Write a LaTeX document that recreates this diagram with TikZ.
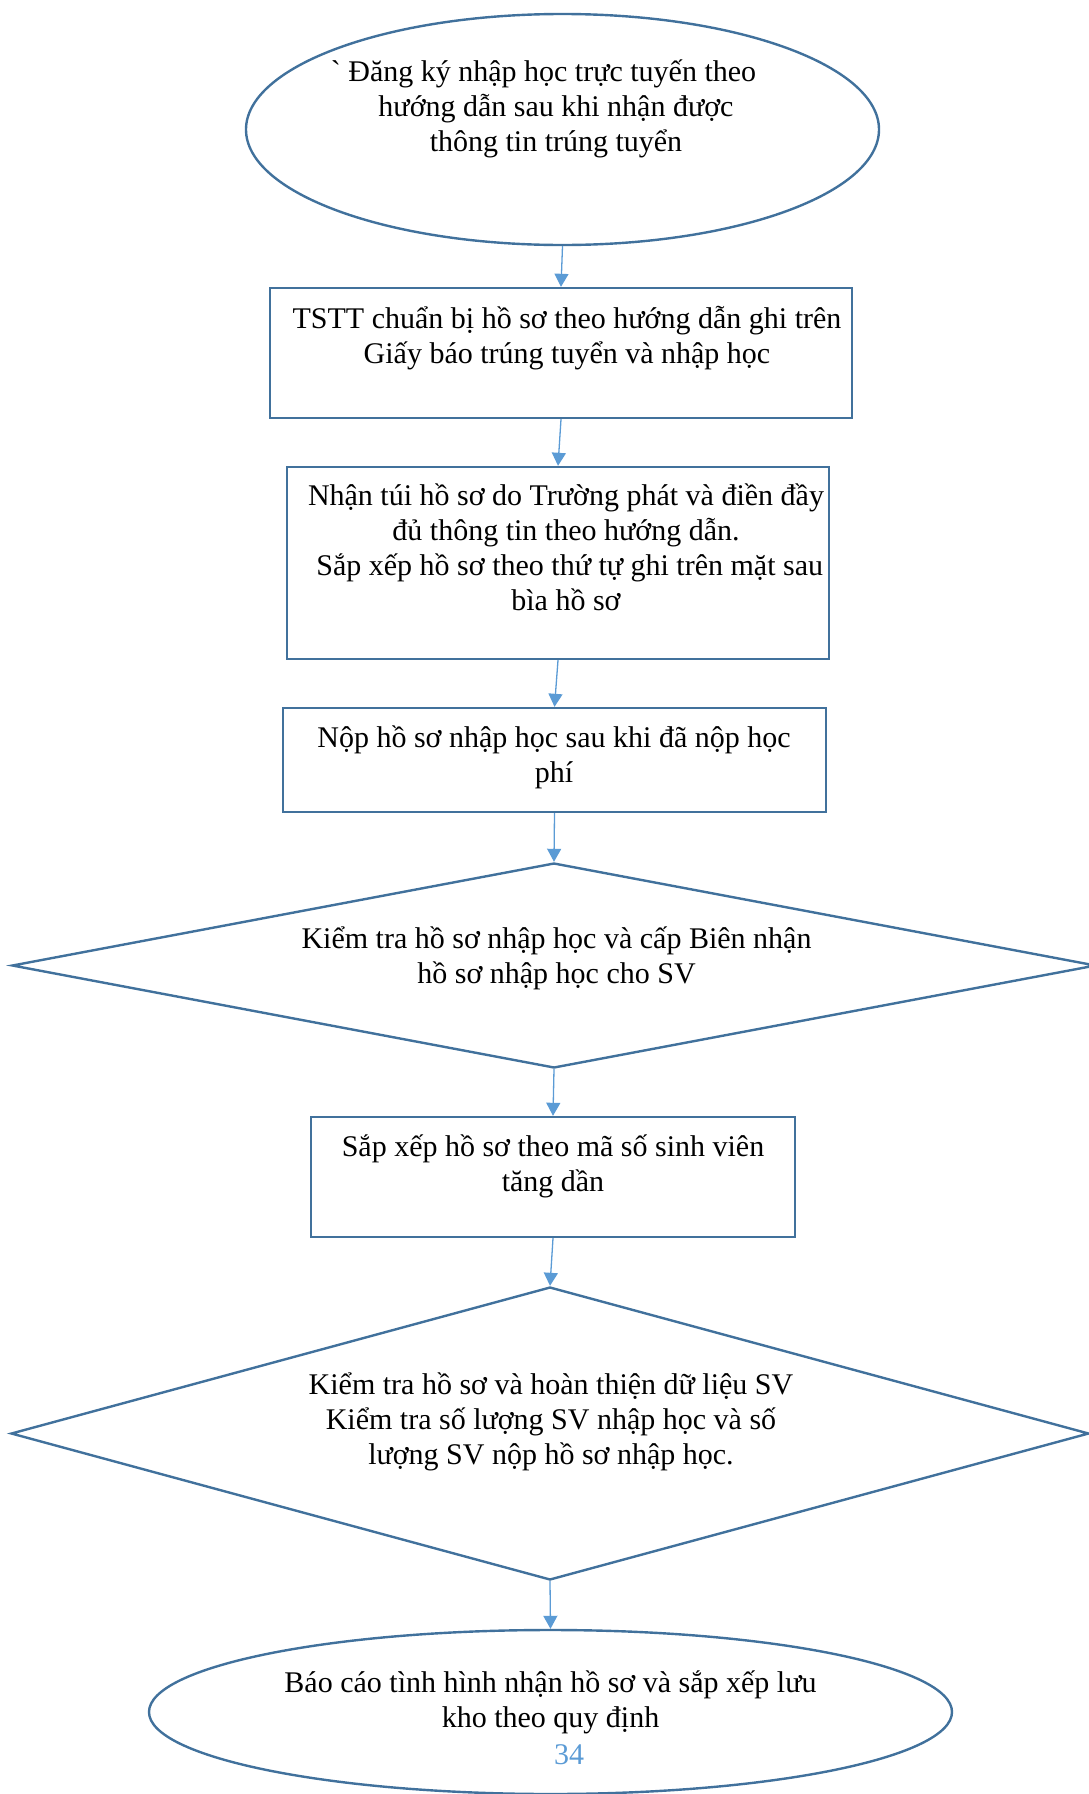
\documentclass[tikz,border=0pt]{standalone}
\usepackage{fontspec}
\setmainfont{Liberation Serif}
\usepackage{tikz}
\usetikzlibrary{shapes.geometric}
\usetikzlibrary{arrows.meta}
\definecolor{shapeblue}{HTML}{41719C}
\definecolor{arrowblue}{HTML}{5B9BD5}
\tikzset{
  khung/.style={draw=shapeblue, line width=2.4pt, inner sep=0},
  hop/.style={khung, rectangle},
  bau/.style={khung, ellipse},
  thoi/.style={khung, diamond},
  % neo o dong cuoi cua chu
  chu/.style={align=center, anchor=base, inner sep=0},
  flow/.style={arrowblue, line width=1.3pt, ->, >={Triangle[length=13pt,width=14pt]}}
}

\begin{document}
\begin{tikzpicture}[x=1pt, y=-1pt, font=\fontsize{30}{35.3}\selectfont]
\useasboundingbox (0,0) rectangle (1088,1794);
% cac khung
\node[bau, minimum width=633pt, minimum height=231pt] (dangky) at (562.5,129.5) {};
\node[hop, minimum width=582pt, minimum height=130pt] (chuanbi) at (561,353) {};
\node[hop, minimum width=542pt, minimum height=192pt] (nhantui) at (558,563) {};
\node[hop, minimum width=543pt, minimum height=104pt] (nophs) at (554.5,760) {};
\node[thoi, minimum width=1084pt, minimum height=205pt] (kiemtra) at (554,965.5) {};
\node[hop, minimum width=484pt, minimum height=120pt] (sapxep) at (553,1177) {};
\node[thoi, minimum width=1078pt, minimum height=293pt] (hoanthien) at (550,1433.5) {};
\node[bau, minimum width=803pt, minimum height=164pt] (baocao) at (550.5,1712) {};
% chu trong khung
\node[chu] (t-dangky) at (556,151.6) {\textasciigrave\ Đăng ký nhập học trực tuyến theo\hspace*{25pt}\\hướng dẫn sau khi nhận được\\thông tin trúng tuyển};
\node[chu] (t-chuanbi) at (567,363.3) {TSTT chuẩn bị hồ sơ theo hướng dẫn ghi trên\\Giấy báo trúng tuyển và nhập học};
\node[chu] (t-nhantui) at (566,610.9) {Nhận túi hồ sơ do Trường phát và điền đầy\\đủ thông tin theo hướng dẫn.\\\ Sắp xếp hồ sơ theo thứ tự ghi trên mặt sau\\bìa hồ sơ};
\node[chu] (t-nophs) at (554,782.3) {Nộp hồ sơ nhập học sau khi đã nộp học\\phí};
\node[chu] (t-kiemtra) at (556.5,983.3) {Kiểm tra hồ sơ nhập học và cấp Biên nhận\\hồ sơ nhập học cho SV};
\node[chu] (t-sapxep) at (553,1191.3) {Sắp xếp hồ sơ theo mã số sinh viên\\tăng dần};
\node[chu] (t-hoanthien) at (551,1464.6) {Kiểm tra hồ sơ và hoàn thiện dữ liệu SV\\Kiểm tra số lượng SV nhập học và số\\lượng SV nộp hồ sơ nhập học.};
\node[chu] (t-baocao) at (550.5,1727.3) {Báo cáo tình hình nhận hồ sơ và sắp xếp lưu\\kho theo quy định};
\node[chu, text=arrowblue] (trang) at (569,1764) {34};
% mui ten
\foreach \a/\b in {dangky/chuanbi, chuanbi/nhantui, nhantui/nophs, nophs/kiemtra,
                   kiemtra/sapxep, sapxep/hoanthien, hoanthien/baocao}
  \draw[flow] (\a.south) -- (\b.north);
\end{tikzpicture}
\end{document}
